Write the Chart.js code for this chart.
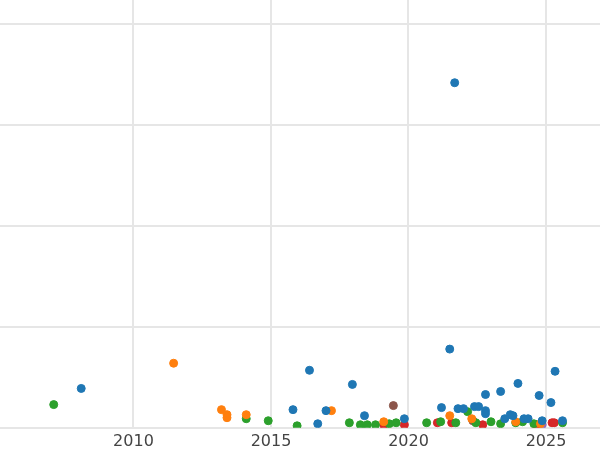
<!DOCTYPE html>
<html><head><meta charset="utf-8">
<script src="https://cdn.jsdelivr.net/npm/chart.js@4"></script>
<style>html,body{margin:0;padding:0;background:#fff;overflow:hidden}#w{position:absolute;left:-6px;top:-6px;width:612px;height:461px}</style>
</head><body><div id="w"><canvas id="c"></canvas></div>
<script>
const xTicks=[2010,2015,2020,2025];
const yTicks=[0,1,2,3,4];
const blueX=[2008.1,2015.8,2016.4,2016.7,2017.0,2017.96,2018.4,2019.85,2021.2,2021.5,2021.68,2021.8,2022.0,2022.4,2022.55,2022.8,2022.8,2022.8,2023.35,2023.5,2023.7,2023.8,2023.98,2024.2,2024.35,2024.75,2024.86,2025.18,2025.33,2025.6];
const blueY=[0.39,0.18,0.57,0.04,0.17,0.43,0.12,0.09,0.20,0.78,3.42,0.19,0.19,0.21,0.21,0.33,0.17,0.14,0.36,0.09,0.13,0.12,0.44,0.09,0.09,0.32,0.07,0.25,0.56,0.07];
const orangeX=[2011.46,2013.2,2013.4,2013.4,2014.1,2017.2,2019.1,2021.5,2022.3,2023.9,2024.8];
const orangeY=[0.64,0.18,0.13,0.10,0.13,0.17,0.06,0.12,0.09,0.06,0.04];
const greenX=[2007.1,2014.1,2014.9,2015.95,2017.85,2018.25,2018.5,2018.8,2019.3,2019.55,2020.66,2021.17,2021.72,2022.15,2022.45,2023.0,2023.35,2023.9,2024.15,2024.56,2025.6];
const greenY=[0.23,0.09,0.07,0.02,0.05,0.03,0.03,0.03,0.04,0.05,0.05,0.06,0.05,0.16,0.05,0.06,0.04,0.05,0.06,0.04,0.05];
const redX=[2019.1,2019.85,2021.05,2021.57,2022.7,2024.64,2025.22,2025.3];
const redY=[0.03,0.03,0.05,0.05,0.03,0.03,0.05,0.05];
const brownX=[2019.45,2022.34];
const brownY=[0.22,0.07];
const purpleX=[2024.86];
const purpleY=[0.03];
const mk=(xs,ys)=>xs.map((x,i)=>({x,y:ys[i]}));
const ds=(d,c)=>({data:d,backgroundColor:c,borderColor:c,pointRadius:4,pointHoverRadius:4});
new Chart(document.getElementById('c'),{type:'scatter',
data:{datasets:[ds(mk(blueX,blueY),'#1f77b4'),ds(mk(orangeX,orangeY),'#ff7f0e'),ds(mk(greenX,greenY),'#2ca02c'),ds(mk(redX,redY),'#d62728'),ds(mk(brownX,brownY),'#8c564b'),ds(mk(purpleX,purpleY),'#9467bd')]},
options:{responsive:true,maintainAspectRatio:false,animation:false,layout:{padding:0},
plugins:{legend:{display:false},tooltip:{enabled:false}},
scales:{
x:{type:'linear',min:2005.11,max:2027.0,afterBuildTicks:a=>{a.ticks=xTicks.map(v=>({value:v}));},
 grid:{color:'#e6e6e6',lineWidth:2,drawTicks:false},border:{display:false},
 ticks:{color:'#444',font:{size:16,family:'DejaVu Sans'},padding:4,callback:v=>String(v)}},
y:{min:0,max:4.25,afterBuildTicks:a=>{a.ticks=yTicks.map(v=>({value:v}));},
 grid:{color:'#e6e6e6',lineWidth:2,drawTicks:false},border:{display:false},ticks:{display:false}}
}}});
</script></body></html>
